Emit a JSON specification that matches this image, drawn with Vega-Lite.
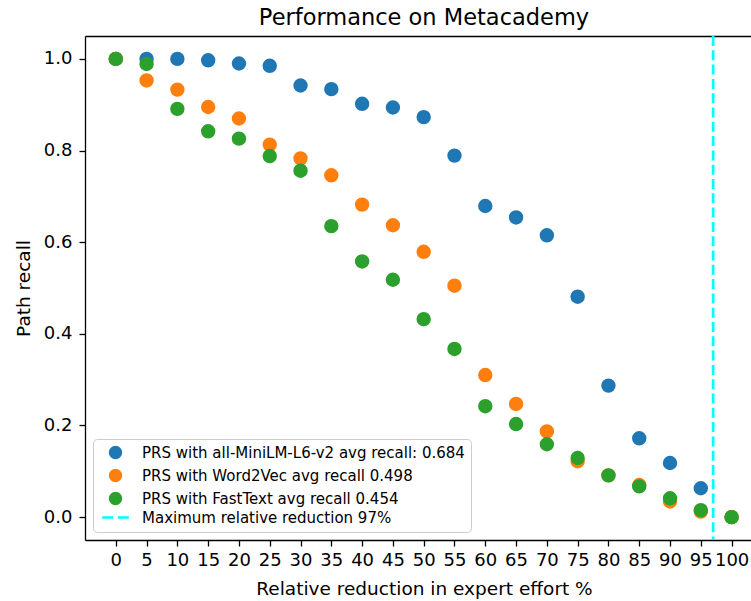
{
  "$schema": "https://vega.github.io/schema/vega-lite/v6.json",
  "width": 666,
  "height": 504,
  "autosize": {"type": "none"},
  "padding": {"left": 85, "top": 36, "right": 0, "bottom": 61},
  "background": "white",
  "config": {
    "font": "DejaVu Sans",
    "view": {"stroke": null},
    "axis": {
      "grid": false,
      "domainColor": "black",
      "tickColor": "black",
      "labelColor": "black",
      "titleColor": "black",
      "labelFont": "DejaVu Sans",
      "titleFont": "DejaVu Sans",
      "labelFontSize": 18,
      "titleFontSize": 18.5,
      "titleFontWeight": "normal",
      "tickSize": 6,
      "domainWidth": 1.3,
      "tickWidth": 1.3
    }
  },
  "title": {
    "text": "Performance on Metacademy",
    "fontSize": 22.5,
    "fontWeight": "normal",
    "font": "DejaVu Sans",
    "color": "black",
    "anchor": "middle",
    "offset": 5,
    "dx": 6
  },
  "resolve": {"axis": {"x": "independent"}},
  "datasets": {
    "points": [
      {"effort": 0, "recall": 1.0, "model": "PRS with all-MiniLM-L6-v2 avg recall: 0.684"},
      {"effort": 5, "recall": 1.0, "model": "PRS with all-MiniLM-L6-v2 avg recall: 0.684"},
      {"effort": 10, "recall": 1.0, "model": "PRS with all-MiniLM-L6-v2 avg recall: 0.684"},
      {"effort": 15, "recall": 0.997, "model": "PRS with all-MiniLM-L6-v2 avg recall: 0.684"},
      {"effort": 20, "recall": 0.99, "model": "PRS with all-MiniLM-L6-v2 avg recall: 0.684"},
      {"effort": 25, "recall": 0.985, "model": "PRS with all-MiniLM-L6-v2 avg recall: 0.684"},
      {"effort": 30, "recall": 0.942, "model": "PRS with all-MiniLM-L6-v2 avg recall: 0.684"},
      {"effort": 35, "recall": 0.934, "model": "PRS with all-MiniLM-L6-v2 avg recall: 0.684"},
      {"effort": 40, "recall": 0.902, "model": "PRS with all-MiniLM-L6-v2 avg recall: 0.684"},
      {"effort": 45, "recall": 0.894, "model": "PRS with all-MiniLM-L6-v2 avg recall: 0.684"},
      {"effort": 50, "recall": 0.873, "model": "PRS with all-MiniLM-L6-v2 avg recall: 0.684"},
      {"effort": 55, "recall": 0.789, "model": "PRS with all-MiniLM-L6-v2 avg recall: 0.684"},
      {"effort": 60, "recall": 0.679, "model": "PRS with all-MiniLM-L6-v2 avg recall: 0.684"},
      {"effort": 65, "recall": 0.654, "model": "PRS with all-MiniLM-L6-v2 avg recall: 0.684"},
      {"effort": 70, "recall": 0.615, "model": "PRS with all-MiniLM-L6-v2 avg recall: 0.684"},
      {"effort": 75, "recall": 0.481, "model": "PRS with all-MiniLM-L6-v2 avg recall: 0.684"},
      {"effort": 80, "recall": 0.287, "model": "PRS with all-MiniLM-L6-v2 avg recall: 0.684"},
      {"effort": 85, "recall": 0.172, "model": "PRS with all-MiniLM-L6-v2 avg recall: 0.684"},
      {"effort": 90, "recall": 0.118, "model": "PRS with all-MiniLM-L6-v2 avg recall: 0.684"},
      {"effort": 95, "recall": 0.063, "model": "PRS with all-MiniLM-L6-v2 avg recall: 0.684"},
      {"effort": 100, "recall": 0.0, "model": "PRS with all-MiniLM-L6-v2 avg recall: 0.684"},
      {"effort": 0, "recall": 1.0, "model": "PRS with Word2Vec avg recall 0.498"},
      {"effort": 5, "recall": 0.953, "model": "PRS with Word2Vec avg recall 0.498"},
      {"effort": 10, "recall": 0.933, "model": "PRS with Word2Vec avg recall 0.498"},
      {"effort": 15, "recall": 0.895, "model": "PRS with Word2Vec avg recall 0.498"},
      {"effort": 20, "recall": 0.87, "model": "PRS with Word2Vec avg recall 0.498"},
      {"effort": 25, "recall": 0.813, "model": "PRS with Word2Vec avg recall 0.498"},
      {"effort": 30, "recall": 0.783, "model": "PRS with Word2Vec avg recall 0.498"},
      {"effort": 35, "recall": 0.746, "model": "PRS with Word2Vec avg recall 0.498"},
      {"effort": 40, "recall": 0.682, "model": "PRS with Word2Vec avg recall 0.498"},
      {"effort": 45, "recall": 0.637, "model": "PRS with Word2Vec avg recall 0.498"},
      {"effort": 50, "recall": 0.579, "model": "PRS with Word2Vec avg recall 0.498"},
      {"effort": 55, "recall": 0.505, "model": "PRS with Word2Vec avg recall 0.498"},
      {"effort": 60, "recall": 0.31, "model": "PRS with Word2Vec avg recall 0.498"},
      {"effort": 65, "recall": 0.247, "model": "PRS with Word2Vec avg recall 0.498"},
      {"effort": 70, "recall": 0.187, "model": "PRS with Word2Vec avg recall 0.498"},
      {"effort": 75, "recall": 0.122, "model": "PRS with Word2Vec avg recall 0.498"},
      {"effort": 80, "recall": 0.091, "model": "PRS with Word2Vec avg recall 0.498"},
      {"effort": 85, "recall": 0.07, "model": "PRS with Word2Vec avg recall 0.498"},
      {"effort": 90, "recall": 0.034, "model": "PRS with Word2Vec avg recall 0.498"},
      {"effort": 95, "recall": 0.012, "model": "PRS with Word2Vec avg recall 0.498"},
      {"effort": 100, "recall": 0.0, "model": "PRS with Word2Vec avg recall 0.498"},
      {"effort": 0, "recall": 1.0, "model": "PRS with FastText avg recall 0.454"},
      {"effort": 5, "recall": 0.989, "model": "PRS with FastText avg recall 0.454"},
      {"effort": 10, "recall": 0.891, "model": "PRS with FastText avg recall 0.454"},
      {"effort": 15, "recall": 0.842, "model": "PRS with FastText avg recall 0.454"},
      {"effort": 20, "recall": 0.826, "model": "PRS with FastText avg recall 0.454"},
      {"effort": 25, "recall": 0.788, "model": "PRS with FastText avg recall 0.454"},
      {"effort": 30, "recall": 0.756, "model": "PRS with FastText avg recall 0.454"},
      {"effort": 35, "recall": 0.635, "model": "PRS with FastText avg recall 0.454"},
      {"effort": 40, "recall": 0.558, "model": "PRS with FastText avg recall 0.454"},
      {"effort": 45, "recall": 0.518, "model": "PRS with FastText avg recall 0.454"},
      {"effort": 50, "recall": 0.432, "model": "PRS with FastText avg recall 0.454"},
      {"effort": 55, "recall": 0.367, "model": "PRS with FastText avg recall 0.454"},
      {"effort": 60, "recall": 0.242, "model": "PRS with FastText avg recall 0.454"},
      {"effort": 65, "recall": 0.203, "model": "PRS with FastText avg recall 0.454"},
      {"effort": 70, "recall": 0.159, "model": "PRS with FastText avg recall 0.454"},
      {"effort": 75, "recall": 0.129, "model": "PRS with FastText avg recall 0.454"},
      {"effort": 80, "recall": 0.091, "model": "PRS with FastText avg recall 0.454"},
      {"effort": 85, "recall": 0.067, "model": "PRS with FastText avg recall 0.454"},
      {"effort": 90, "recall": 0.041, "model": "PRS with FastText avg recall 0.454"},
      {"effort": 95, "recall": 0.015, "model": "PRS with FastText avg recall 0.454"},
      {"effort": 100, "recall": 0.0, "model": "PRS with FastText avg recall 0.454"}
    ],
    "rule": [
      {"effort": 97, "model": "Maximum relative reduction 97%"}
    ]
  },
  "layer": [
    {
      "data": {"name": "points"},
      "mark": {"type": "point", "filled": true, "opacity": 1, "size": 154},
      "encoding": {
        "x": {
          "field": "effort",
          "type": "quantitative",
          "scale": {"domain": [-5, 103.15], "nice": false, "zero": false},
          "axis": {
            "orient": "bottom",
            "values": [0, 5, 10, 15, 20, 25, 30, 35, 40, 45, 50, 55, 60, 65, 70, 75, 80, 85, 90, 95, 100],
            "format": "d",
            "labelAngle": 0,
            "labelOverlap": false,
            "labelFlush": false,
            "labelPadding": 5,
            "title": "Relative reduction in expert effort %",
            "titlePadding": 10,
            "titleX": 339
          }
        },
        "y": {
          "field": "recall",
          "type": "quantitative",
          "scale": {"domain": [-0.05, 1.05], "nice": false, "zero": false},
          "axis": {
            "values": [0, 0.2, 0.4, 0.6, 0.8, 1.0],
            "format": ".1f",
            "title": "Path recall",
            "labelPadding": 7,
            "titlePadding": 10
          }
        },
        "color": {
          "field": "model",
          "type": "nominal",
          "scale": {
            "domain": [
              "PRS with all-MiniLM-L6-v2 avg recall: 0.684",
              "PRS with Word2Vec avg recall 0.498",
              "PRS with FastText avg recall 0.454",
              "Maximum relative reduction 97%"
            ],
            "range": ["#1f77b4", "#ff7f0e", "#2ca02c", "#00ffff"]
          },
          "legend": {
            "title": null,
            "orient": "bottom-left",
            "offset": 8,
            "padding": 6,
            "rowPadding": 0,
            "symbolOffset": 9,
            "labelOffset": 19,
            "labelFontSize": 15,
            "labelFont": "DejaVu Sans",
            "labelColor": "black",
            "labelLimit": 600,
            "symbolSize": 114,
            "symbolStrokeWidth": 2.7,
            "strokeColor": "#cccccc",
            "fillColor": "rgba(255,255,255,0.8)",
            "cornerRadius": 4
          }
        },
        "stroke": {
          "field": "model",
          "type": "nominal",
          "scale": {
            "domain": [
              "PRS with all-MiniLM-L6-v2 avg recall: 0.684",
              "PRS with Word2Vec avg recall 0.498",
              "PRS with FastText avg recall 0.454",
              "Maximum relative reduction 97%"
            ],
            "range": ["#1f77b4", "#ff7f0e", "#2ca02c", "#00ffff"]
          },
          "legend": {"title": null}
        },
        "shape": {
          "field": "model",
          "type": "nominal",
          "scale": {
            "domain": [
              "PRS with all-MiniLM-L6-v2 avg recall: 0.684",
              "PRS with Word2Vec avg recall 0.498",
              "PRS with FastText avg recall 0.454",
              "Maximum relative reduction 97%"
            ],
            "range": ["circle", "circle", "circle", "M-2.5,0H-0.44M0.44,0H2.5"]
          },
          "legend": {"title": null}
        }
      }
    },
    {
      "data": {"name": "rule"},
      "mark": {"type": "rule", "strokeDash": [10, 4.3], "strokeWidth": 2.7, "color": "#00ffff"},
      "encoding": {
        "x": {
          "field": "effort",
          "type": "quantitative",
          "axis": {"orient": "top", "labels": false, "ticks": false, "title": null, "domainWidth": 1.3}
        }
      }
    }
  ]
}
